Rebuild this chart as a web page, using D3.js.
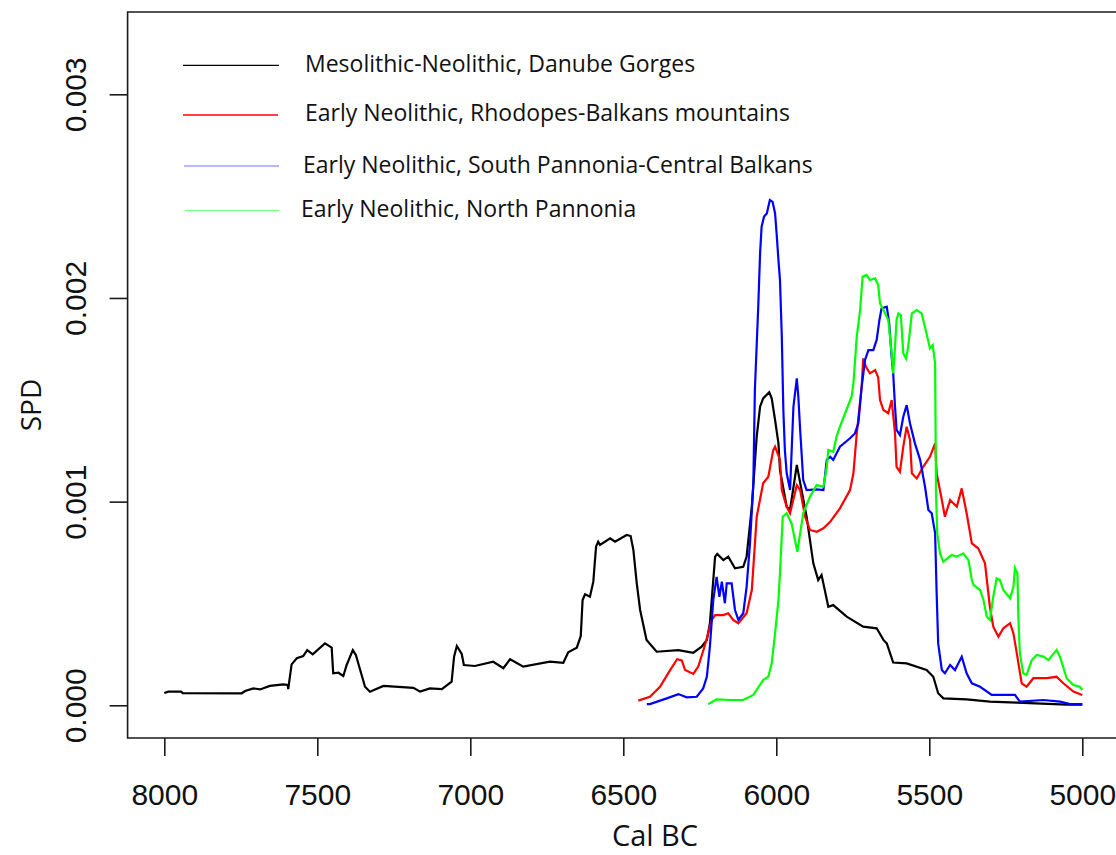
<!DOCTYPE html>
<html>
<head>
<meta charset="utf-8">
<script src="https://cdn.jsdelivr.net/npm/d3@7"></script>
<style>
html,body{margin:0;padding:0;background:#fff;}
svg{display:block;}
</style>
</head>
<body>
<svg id="chart" width="1116" height="855"></svg>
<script>
// ---- DATA (years Cal BC, SPD values in units of 0.001) ----
const xTicks = [8000, 7500, 7000, 6500, 6000, 5500, 5000];
const yTicks = [0, 0.001, 0.002, 0.003];
const yTickLabels = ["0.000", "0.001", "0.002", "0.003"];
const seriesNames = [
  "Mesolithic-Neolithic, Danube Gorges",
  "Early Neolithic, Rhodopes-Balkans mountains",
  "Early Neolithic, South Pannonia-Central Balkans",
  "Early Neolithic, North Pannonia"
];
const seriesColors = ["#000000", "#ff0000", "#0000ff", "#00ff00"];

const danubeGorges = [
 [8000,0.060],[7987,0.067],[7945,0.067],[7940,0.060],[7747,0.059],[7736,0.070],[7709,0.083],[7687,0.078],
 [7655,0.095],[7611,0.103],[7597,0.100],[7595,0.079],[7584,0.201],[7567,0.231],[7546,0.242],[7533,0.271],
 [7515,0.250],[7475,0.304],[7453,0.283],[7448,0.157],[7431,0.160],[7415,0.144],[7404,0.198],[7384,0.271],
 [7374,0.247],[7344,0.091],[7328,0.067],[7284,0.095],[7186,0.086],[7164,0.067],[7132,0.083],[7093,0.079],
 [7061,0.116],[7053,0.239],[7044,0.291],[7028,0.252],[7021,0.198],[6985,0.193],[6925,0.214],[6892,0.182],
 [6870,0.226],[6827,0.190],[6740,0.214],[6696,0.209],[6680,0.260],[6652,0.283],[6639,0.340],[6633,0.517],
 [6625,0.545],[6609,0.533],[6598,0.607],[6589,0.779],[6582,0.803],[6576,0.787],[6543,0.820],[6527,0.803],
 [6489,0.836],[6476,0.831],[6467,0.762],[6456,0.599],[6445,0.468],[6424,0.321],[6391,0.263],[6320,0.271],
 [6271,0.258],[6244,0.288],[6227,0.321],[6217,0.403],[6200,0.730],[6193,0.743],[6173,0.713],[6157,0.730],
 [6135,0.673],[6108,0.680],[6097,0.730],[6080,0.975],[6064,1.319],[6053,1.466],[6043,1.507],[6023,1.537],
 [6015,1.507],[6004,1.401],[5993,1.286],[5988,1.155],[5966,0.975],[5955,0.960],[5933,1.180],[5901,0.926],
 [5879,0.697],[5863,0.615],[5852,0.640],[5830,0.484],[5814,0.492],[5770,0.435],[5716,0.386],[5672,0.378],
 [5650,0.321],[5639,0.304],[5618,0.210],[5574,0.206],[5509,0.173],[5487,0.140],[5471,0.059],[5454,0.034],
 [5378,0.029],[5302,0.018],[5214,0.013],[5051,0.003],[5000,0.003]
];

const rhodopesBalkans = [
 [6451,0.023],[6413,0.042],[6380,0.091],[6347,0.173],[6324,0.226],[6309,0.220],[6298,0.173],[6271,0.154],
 [6255,0.190],[6233,0.296],[6211,0.419],[6200,0.443],[6173,0.443],[6157,0.452],[6141,0.419],[6124,0.403],
 [6097,0.452],[6080,0.566],[6064,0.926],[6043,1.090],[6026,1.122],[6010,1.253],[6004,1.270],[5988,1.205],
 [5982,1.057],[5966,0.975],[5955,0.943],[5933,1.081],[5922,1.057],[5906,0.926],[5890,0.861],[5868,0.852],
 [5846,0.869],[5824,0.901],[5792,0.967],[5759,1.057],[5748,1.139],[5737,1.335],[5721,1.564],[5716,1.703],
 [5707,1.662],[5694,1.630],[5677,1.646],[5667,1.610],[5661,1.499],[5650,1.450],[5634,1.434],[5623,1.499],
 [5612,1.335],[5607,1.171],[5596,1.147],[5585,1.270],[5574,1.368],[5563,1.303],[5557,1.139],[5541,1.114],
 [5520,1.171],[5498,1.220],[5481,1.286],[5476,1.139],[5459,1.008],[5449,0.926],[5432,1.008],[5410,0.975],
 [5394,1.065],[5378,0.943],[5361,0.795],[5340,0.771],[5318,0.697],[5302,0.484],[5291,0.386],[5274,0.337],
 [5258,0.378],[5236,0.403],[5225,0.353],[5214,0.255],[5198,0.108],[5182,0.091],[5160,0.133],[5116,0.133],
 [5084,0.140],[5062,0.108],[5029,0.067],[5000,0.051]
];

const southPannonia = [
 [6423,0.006],[6413,0.006],[6358,0.034],[6320,0.055],[6293,0.039],[6260,0.042],[6239,0.083],[6227,0.140],
 [6217,0.288],[6206,0.517],[6195,0.631],[6186,0.533],[6178,0.607],[6168,0.501],[6162,0.599],[6146,0.599],
 [6135,0.468],[6124,0.419],[6108,0.452],[6097,0.582],[6086,0.795],[6075,1.090],[6070,1.548],[6059,1.957],
 [6053,2.219],[6048,2.350],[6040,2.400],[6031,2.415],[6021,2.481],[6012,2.472],[6004,2.415],[5999,2.317],
 [5993,2.186],[5988,2.088],[5982,1.810],[5977,1.450],[5972,1.253],[5966,1.139],[5955,1.057],[5944,1.466],
 [5933,1.605],[5928,1.515],[5922,1.352],[5912,1.106],[5901,1.057],[5868,1.060],[5846,1.057],[5835,1.205],
 [5824,1.220],[5814,1.205],[5792,1.270],[5759,1.311],[5743,1.335],[5732,1.384],[5721,1.564],[5710,1.696],
 [5699,1.744],[5683,1.744],[5672,1.794],[5663,1.892],[5656,1.949],[5639,1.957],[5631,1.875],[5623,1.711],
 [5618,1.630],[5612,1.466],[5607,1.352],[5596,1.327],[5585,1.417],[5574,1.474],[5563,1.384],[5547,1.286],
 [5530,1.205],[5514,1.073],[5503,0.959],[5492,0.943],[5481,0.844],[5476,0.550],[5471,0.304],[5459,0.173],
 [5449,0.157],[5432,0.198],[5416,0.173],[5394,0.239],[5378,0.157],[5361,0.108],[5334,0.091],[5296,0.051],
 [5220,0.051],[5204,0.018],[5127,0.026],[5073,0.018],[5040,0.006],[5000,0.006]
];

const northPannonia = [
 [6223,0.006],[6217,0.010],[6195,0.029],[6151,0.026],[6108,0.026],[6075,0.051],[6043,0.124],[6026,0.140],
 [6015,0.206],[6004,0.353],[5993,0.517],[5988,0.648],[5979,0.926],[5966,0.943],[5950,0.893],[5939,0.812],
 [5931,0.754],[5922,0.844],[5912,0.943],[5890,1.024],[5868,1.081],[5846,1.073],[5835,1.171],[5830,1.253],
 [5814,1.245],[5803,1.319],[5792,1.368],[5775,1.434],[5754,1.515],[5748,1.581],[5737,1.810],[5726,1.941],
 [5718,2.104],[5705,2.113],[5694,2.088],[5677,2.096],[5667,2.063],[5661,1.973],[5650,1.941],[5634,1.892],
 [5623,1.728],[5618,1.630],[5612,1.760],[5607,1.892],[5601,1.924],[5593,1.916],[5585,1.728],[5576,1.703],
 [5569,1.760],[5557,1.924],[5541,1.941],[5525,1.924],[5509,1.826],[5498,1.753],[5489,1.769],[5481,1.679],
 [5478,1.041],[5474,0.844],[5465,0.746],[5454,0.705],[5427,0.738],[5410,0.730],[5389,0.746],[5372,0.713],
 [5361,0.615],[5356,0.591],[5334,0.566],[5323,0.517],[5312,0.435],[5302,0.419],[5291,0.533],[5280,0.623],
 [5269,0.615],[5258,0.566],[5236,0.525],[5225,0.582],[5220,0.673],[5212,0.648],[5209,0.435],[5204,0.255],
 [5193,0.157],[5182,0.149],[5165,0.222],[5149,0.247],[5127,0.239],[5111,0.222],[5084,0.271],[5073,0.239],
 [5051,0.133],[5029,0.100],[5008,0.091],[5000,0.075]
];

const allSeries = [danubeGorges, rhodopesBalkans, southPannonia, northPannonia];

// ---- CHART ----
const svg = d3.select("#chart");
const x = d3.scaleLinear().domain([8000, 5000]).range([164.3, 1082.3]);
const y = d3.scaleLinear().domain([0, 0.003]).range([705.3, 94.3]);
const boxLeft = 127.6, boxTop = 12, boxBottom = 738, boxRight = 1119;

const axisColor = "#1a1a1a";
// plot box (top, left, bottom)
svg.append("path")
  .attr("d", `M${boxRight},${boxTop}H${boxLeft}V${boxBottom}H${boxRight}`)
  .attr("fill", "none").attr("stroke", axisColor).attr("stroke-width", 1.6);

// x axis
const xAxis = d3.axisBottom(x).tickValues(xTicks).tickSize(18).tickPadding(10).tickFormat(d3.format("d"));
const gx = svg.append("g").attr("transform", `translate(0,${boxBottom})`).call(xAxis);
gx.select(".domain").remove();
gx.selectAll(".tick line").attr("stroke", axisColor).attr("stroke-width", 1.6);
gx.selectAll(".tick text").attr("font-family", "Liberation Sans, Arial, sans-serif")
  .attr("font-size", 30).attr("fill", "#111").attr("dy", null).attr("y", 67);

// y axis
const yAxis = d3.axisLeft(y).tickValues(yTicks).tickSize(18).tickFormat((d, i) => yTickLabels[i]);
const gy = svg.append("g").attr("transform", `translate(${boxLeft},0)`).call(yAxis);
gy.select(".domain").remove();
gy.selectAll(".tick line").attr("stroke", axisColor).attr("stroke-width", 1.6);
gy.selectAll(".tick text")
  .attr("font-family", "Liberation Sans, Arial, sans-serif").attr("font-size", 30).attr("fill", "#111")
  .attr("x", null).attr("dy", null)
  .attr("text-anchor", "middle")
  .attr("transform", "translate(-42,0) rotate(-90)");

// axis titles
svg.append("text").attr("x", 655).attr("y", 846).attr("text-anchor", "middle")
  .attr("font-family", "Open Sans, sans-serif").attr("font-size", 29).attr("fill", "#111").text("Cal BC");
svg.append("text").attr("transform", "translate(41,405) rotate(-90)").attr("text-anchor", "middle")
  .attr("font-family", "Open Sans, sans-serif").attr("font-size", 28).attr("fill", "#111").text("SPD");

// curves
const line = d3.line().x(d => x(d[0])).y(d => y(d[1] / 1000)).curve(d3.curveLinear);
allSeries.forEach((s, i) => {
  svg.append("path").datum(s).attr("d", line)
    .attr("fill", "none").attr("stroke", seriesColors[i]).attr("stroke-width", 2.2)
    .attr("stroke-linejoin", "miter");
});

// legend
const legendLineY = [65.3, 115, 166, 210.5];
const legendTextBase = [72, 121, 173, 217];
const legendTextX = [305, 305, 303, 301];
const legendLineX = [[183, 279], [183, 278], [184, 279], [185, 279]];
const legendOpacity = [1, 1, 0.55, 0.55];
seriesNames.forEach((name, i) => {
  svg.append("line").attr("x1", legendLineX[i][0]).attr("x2", legendLineX[i][1])
    .attr("y1", legendLineY[i]).attr("y2", legendLineY[i])
    .attr("stroke", seriesColors[i]).attr("stroke-width", i === 1 ? 1.6 : 1.2)
    .attr("stroke-opacity", legendOpacity[i]);
  svg.append("text").attr("x", legendTextX[i]).attr("y", legendTextBase[i])
    .attr("font-family", "Open Sans, sans-serif").attr("font-size", 23).attr("fill", "#111")
    .text(name);
});
</script>
</body>
</html>
